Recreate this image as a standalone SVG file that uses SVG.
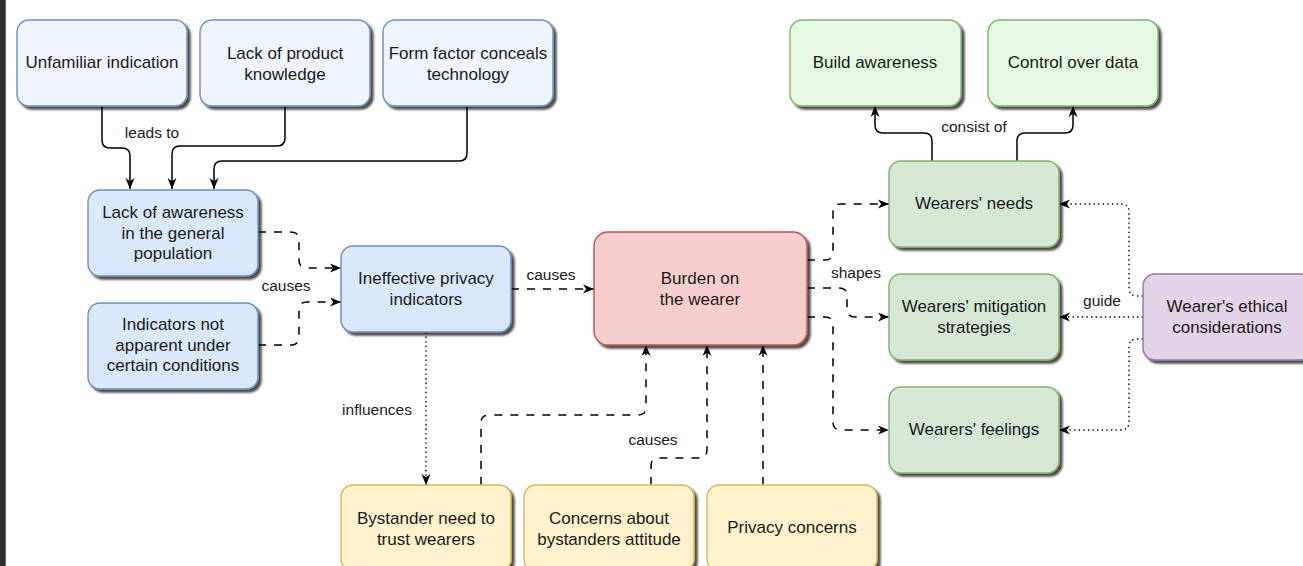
<svg xmlns="http://www.w3.org/2000/svg" width="1303" height="566" viewBox="0 0 1303 566">
<defs>
<style>
.n{stroke-width:1.4}
.b0{fill:#eef5ff;stroke:#6c8ebf}
.b1{fill:#dae8fc;stroke:#6c8ebf}
.r{fill:#f8cecc;stroke:#b85450}
.g0{fill:#e6f9e2;stroke:#82b366}
.g1{fill:#d5e8d4;stroke:#82b366}
.y{fill:#fff2cc;stroke:#d6b656}
.p{fill:#e1d5e7;stroke:#9673a6}
text{font-family:"Liberation Sans",Arial,sans-serif;fill:#1a1a1a}
.t{font-size:17px;text-anchor:middle}
.l{font-size:15.5px;text-anchor:middle}
.c{fill:none;stroke:#000;stroke-width:1.5}
.d{stroke-dasharray:8 8}
.o{stroke-dasharray:1.4 3.2;stroke-width:1.4}
</style>
<filter id="sh" x="-10%" y="-10%" width="130%" height="130%">
<feDropShadow dx="3" dy="3" stdDeviation="1.3" flood-color="#000" flood-opacity="0.7"/>
</filter>
<marker id="a" viewBox="0 0 11 10" refX="11" refY="5" markerWidth="11" markerHeight="10" markerUnits="userSpaceOnUse" orient="auto">
<path d="M0,0.5 L11,5 L0,9.5 L3.2,5 Z" fill="#000"/>
</marker>
</defs>
<rect x="0" y="0" width="1303" height="566" fill="#fff"/>
<rect x="0" y="0" width="5" height="566" fill="#2f2f2f"/>
<rect x="5" y="0" width="1" height="566" fill="#666"/>

<g id="connectors">
<path class="c" marker-end="url(#a)" d="M102 106 V140 Q102 148 110 148 H122 Q130 148 130 156 V189"/>
<path class="c" marker-end="url(#a)" d="M285 106 V138 Q285 146 277 146 H180 Q172 146 172 154 V189"/>
<path class="c" marker-end="url(#a)" d="M467 106 V153 Q467 161 459 161 H222 Q214 161 214 169 V189"/>
<text class="l" x="152" y="138">leads to</text>

<path class="c d" marker-end="url(#a)" d="M258 232 H290 Q299 232 299 240 V260 Q299 268 307 268 H341"/>
<path class="c d" marker-end="url(#a)" d="M258 345 H290 Q299 345 299 337 V310 Q299 302 307 302 H341"/>
<text class="l" x="286" y="291">causes</text>

<path class="c d" marker-end="url(#a)" d="M511 289 H594"/>
<text class="l" x="551" y="280">causes</text>

<path class="c o" marker-end="url(#a)" d="M426 332 V485"/>
<text class="l" x="377" y="415">influences</text>

<path class="c d" marker-end="url(#a)" d="M481 485 V423 Q481 415 489 415 H638 Q646 415 646 407 V345"/>
<path class="c d" marker-end="url(#a)" d="M651 485 V466 Q651 458 659 458 H699 Q707 458 707 450 V345"/>
<path class="c d" marker-end="url(#a)" d="M763 485 V345"/>
<text class="l" x="653" y="445">causes</text>

<path class="c d" marker-end="url(#a)" d="M807 260 H825 Q833 260 833 252 V212 Q833 204 841 204 H889"/>
<path class="c d" marker-end="url(#a)" d="M807 288 H839 Q847 288 847 296 V309 Q847 317 855 317 H889"/>
<path class="c d" marker-end="url(#a)" d="M807 317 H825 Q833 317 833 325 V422 Q833 430 841 430 H889"/>
<text class="l" x="856" y="278">shapes</text>

<path class="c o" marker-end="url(#a)" d="M1143 296 H1137 Q1129 296 1129 288 V212 Q1129 204 1121 204 H1059"/>
<path class="c o" marker-end="url(#a)" d="M1143 317 H1059"/>
<path class="c o" marker-end="url(#a)" d="M1143 339 H1137 Q1129 339 1129 347 V422 Q1129 430 1121 430 H1059"/>
<text class="l" x="1102" y="306">guide</text>

<path class="c" marker-end="url(#a)" d="M932 161 V141 Q932 133 924 133 H883 Q875 133 875 125 V106"/>
<path class="c" marker-end="url(#a)" d="M1017 161 V141 Q1017 133 1025 133 H1065 Q1073 133 1073 125 V106"/>
<text class="l" x="974" y="132">consist of</text>
</g>

<g id="unfamiliar"><rect class="n b0" filter="url(#sh)" x="17" y="20" width="170" height="86" rx="12"/><text class="t" x="102" y="68">Unfamiliar indication</text></g>
<g id="lack-product"><rect class="n b0" filter="url(#sh)" x="200" y="20" width="170" height="86" rx="12"/><text class="t" x="285" y="59">Lack of product</text><text class="t" x="285" y="80">knowledge</text></g>
<g id="form-factor"><rect class="n b0" filter="url(#sh)" x="383" y="20" width="170" height="86" rx="12"/><text class="t" x="468" y="59">Form factor conceals</text><text class="t" x="468" y="80">technology</text></g>

<g id="lack-awareness"><rect class="n b1" filter="url(#sh)" x="88" y="190" width="170" height="86" rx="12"/><text class="t" x="173" y="218">Lack of awareness</text><text class="t" x="173" y="238.5">in the general</text><text class="t" x="173" y="259">population</text></g>
<g id="indicators-not-apparent"><rect class="n b1" filter="url(#sh)" x="88" y="303" width="170" height="86" rx="12"/><text class="t" x="173" y="330">Indicators not</text><text class="t" x="173" y="350.5">apparent under</text><text class="t" x="173" y="371">certain conditions</text></g>
<g id="ineffective"><rect class="n b1" filter="url(#sh)" x="341" y="246" width="170" height="86" rx="12"/><text class="t" x="426" y="284">Ineffective privacy</text><text class="t" x="426" y="305">indicators</text></g>

<g id="burden"><rect class="n r" filter="url(#sh)" x="594" y="232" width="213" height="113" rx="14"/><text class="t" x="700" y="284">Burden on</text><text class="t" x="700" y="305">the wearer</text></g>

<g id="bystander-trust"><rect class="n y" filter="url(#sh)" x="341" y="485" width="170" height="86" rx="12"/><text class="t" x="426" y="524">Bystander need to</text><text class="t" x="426" y="545">trust wearers</text></g>
<g id="concerns-attitude"><rect class="n y" filter="url(#sh)" x="524" y="485" width="170" height="86" rx="12"/><text class="t" x="609" y="524">Concerns about</text><text class="t" x="609" y="545">bystanders attitude</text></g>
<g id="privacy-concerns"><rect class="n y" filter="url(#sh)" x="707" y="485" width="170" height="86" rx="12"/><text class="t" x="792" y="533">Privacy concerns</text></g>

<g id="build-awareness"><rect class="n g0" filter="url(#sh)" x="790" y="20" width="171" height="86" rx="12"/><text class="t" x="875" y="68">Build awareness</text></g>
<g id="control-data"><rect class="n g0" filter="url(#sh)" x="988" y="20" width="170" height="86" rx="12"/><text class="t" x="1073" y="68">Control over data</text></g>

<g id="wearers-needs"><rect class="n g1" filter="url(#sh)" x="889" y="161" width="170" height="86" rx="12"/><text class="t" x="974" y="209">Wearers' needs</text></g>
<g id="wearers-mitigation"><rect class="n g1" filter="url(#sh)" x="889" y="274" width="170" height="86" rx="12"/><text class="t" x="974" y="312">Wearers' mitigation</text><text class="t" x="974" y="333">strategies</text></g>
<g id="wearers-feelings"><rect class="n g1" filter="url(#sh)" x="889" y="387" width="170" height="86" rx="12"/><text class="t" x="974" y="435">Wearers' feelings</text></g>

<g id="ethical"><rect class="n p" filter="url(#sh)" x="1143" y="274" width="170" height="86" rx="12"/><text class="t" x="1227" y="312">Wearer's ethical</text><text class="t" x="1227" y="333">considerations</text></g>
</svg>
